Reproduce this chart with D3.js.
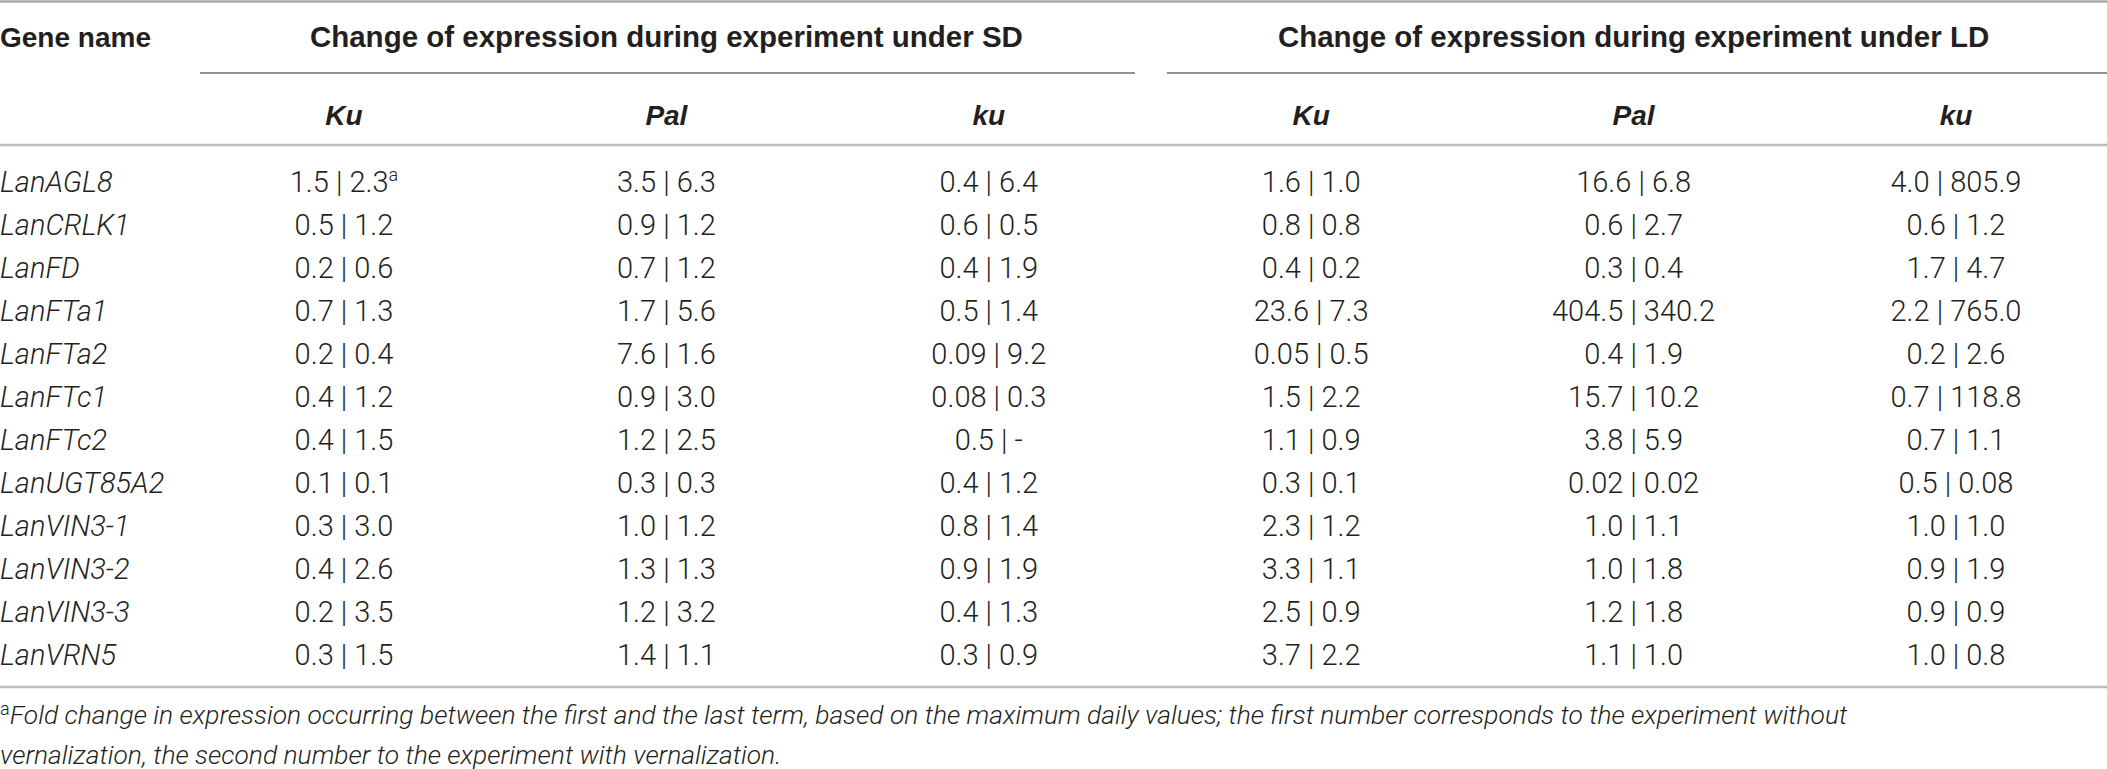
<!DOCTYPE html>
<html>
<head>
<meta charset="utf-8">
<script src="https://cdn.jsdelivr.net/npm/d3@7"></script>
<style>
  html, body { margin: 0; padding: 0; background: #fff; }
  svg { display: block; }
</style>
</head>
<body>
<div id="table"></div>
<script>
// Configuration
const TABLE_CONFIG = {
  width: 2107,
  height: 769,
  colRange: [344, 1956],
  rowRange: [182, 655],
  fonts: {
    bold: '"Liberation Sans", Arial, sans-serif',
    light: 'Roboto, "Liberation Sans", sans-serif'
  },
  textColor: '#231f20'
};

// Data
const genes = ['LanAGL8', 'LanCRLK1', 'LanFD', 'LanFTa1', 'LanFTa2', 'LanFTc1',
  'LanFTc2', 'LanUGT85A2', 'LanVIN3-1', 'LanVIN3-2', 'LanVIN3-3', 'LanVRN5'];

const conditions = ['SD', 'LD'];
const genotypes = ['Ku', 'Pal', 'ku'];

// fold change: [without vernalization, with vernalization]
const sdKu = [['1.5', '2.3'], ['0.5', '1.2'], ['0.2', '0.6'], ['0.7', '1.3'], ['0.2', '0.4'], ['0.4', '1.2'],
  ['0.4', '1.5'], ['0.1', '0.1'], ['0.3', '3.0'], ['0.4', '2.6'], ['0.2', '3.5'], ['0.3', '1.5']];
const sdPal = [['3.5', '6.3'], ['0.9', '1.2'], ['0.7', '1.2'], ['1.7', '5.6'], ['7.6', '1.6'], ['0.9', '3.0'],
  ['1.2', '2.5'], ['0.3', '0.3'], ['1.0', '1.2'], ['1.3', '1.3'], ['1.2', '3.2'], ['1.4', '1.1']];
const sdku = [['0.4', '6.4'], ['0.6', '0.5'], ['0.4', '1.9'], ['0.5', '1.4'], ['0.09', '9.2'], ['0.08', '0.3'],
  ['0.5', '-'], ['0.4', '1.2'], ['0.8', '1.4'], ['0.9', '1.9'], ['0.4', '1.3'], ['0.3', '0.9']];
const ldKu = [['1.6', '1.0'], ['0.8', '0.8'], ['0.4', '0.2'], ['23.6', '7.3'], ['0.05', '0.5'], ['1.5', '2.2'],
  ['1.1', '0.9'], ['0.3', '0.1'], ['2.3', '1.2'], ['3.3', '1.1'], ['2.5', '0.9'], ['3.7', '2.2']];
const ldPal = [['16.6', '6.8'], ['0.6', '2.7'], ['0.3', '0.4'], ['404.5', '340.2'], ['0.4', '1.9'], ['15.7', '10.2'],
  ['3.8', '5.9'], ['0.02', '0.02'], ['1.0', '1.1'], ['1.0', '1.8'], ['1.2', '1.8'], ['1.1', '1.0']];
const ldku = [['4.0', '805.9'], ['0.6', '1.2'], ['1.7', '4.7'], ['2.2', '765.0'], ['0.2', '2.6'], ['0.7', '118.8'],
  ['0.7', '1.1'], ['0.5', '0.08'], ['1.0', '1.0'], ['0.9', '1.9'], ['0.9', '0.9'], ['1.0', '0.8']];

const columns = [
  { key: 'SD-Ku', values: sdKu }, { key: 'SD-Pal', values: sdPal }, { key: 'SD-ku', values: sdku },
  { key: 'LD-Ku', values: ldKu }, { key: 'LD-Pal', values: ldPal }, { key: 'LD-ku', values: ldku }
];

const footnoteLines = [
  'Fold change in expression occurring between the first and the last term, based on the maximum daily values; the first number corresponds to the experiment without',
  'vernalization, the second number to the experiment with vernalization.'
];

function drawTable(selector) {
  const svg = d3.select(selector).append('svg')
    .attr('width', TABLE_CONFIG.width)
    .attr('height', TABLE_CONFIG.height);

  const xScale = d3.scalePoint()
    .domain(columns.map(c => c.key))
    .range(TABLE_CONFIG.colRange);

  const yScale = d3.scalePoint()
    .domain(genes)
    .range(TABLE_CONFIG.rowRange);

  // Rules
  const rule = (x1, x2, y, color, w) => svg.append('line')
    .attr('x1', x1).attr('x2', x2).attr('y1', y).attr('y2', y)
    .attr('stroke', color).attr('stroke-width', w);

  rule(0, TABLE_CONFIG.width, 1.5, '#a7a7a7', 2.5);
  rule(200, 1135, 73, '#6d6d6d', 1.6);
  rule(1167, TABLE_CONFIG.width, 73, '#6d6d6d', 1.6);
  rule(0, TABLE_CONFIG.width, 145, '#bdbdbd', 2.5);
  rule(0, TABLE_CONFIG.width, 687, '#bdbdbd', 2.5);

  // Header
  svg.append('text')
    .attr('x', 0)
    .attr('y', 47)
    .style('font-family', TABLE_CONFIG.fonts.bold)
    .style('font-weight', 'bold')
    .style('font-size', '28px')
    .attr('fill', TABLE_CONFIG.textColor)
    .text('Gene name');

  svg.selectAll('.cond-label')
    .data(conditions)
    .join('text')
    .attr('class', 'cond-label')
    .attr('x', d => xScale(`${d}-Pal`))
    .attr('y', 47)
    .attr('text-anchor', 'middle')
    .style('font-family', TABLE_CONFIG.fonts.bold)
    .style('font-weight', 'bold')
    .style('font-size', '29.5px')
    .attr('fill', TABLE_CONFIG.textColor)
    .text(d => `Change of expression during experiment under ${d}`);

  svg.selectAll('.geno-label')
    .data(columns)
    .join('text')
    .attr('class', 'geno-label')
    .attr('x', d => xScale(d.key))
    .attr('y', 125)
    .attr('text-anchor', 'middle')
    .style('font-family', TABLE_CONFIG.fonts.bold)
    .style('font-weight', 'bold')
    .style('font-style', 'italic')
    .style('font-size', '28px')
    .attr('fill', TABLE_CONFIG.textColor)
    .text(d => d.key.split('-')[1]);

  // Gene names
  svg.selectAll('.gene')
    .data(genes)
    .join('text')
    .attr('class', 'gene')
    .attr('x', 0)
    .attr('y', d => yScale(d) + 10)
    .style('font-family', TABLE_CONFIG.fonts.light)
    .style('font-weight', 300)
    .style('font-style', 'italic')
    .style('font-size', '29px')
    .attr('fill', TABLE_CONFIG.textColor)
    .text(d => d);

  // Cells
  const cells = columns.flatMap(col => col.values.map((v, i) => ({ col: col.key, gene: genes[i], v })));

  const cellText = svg.selectAll('.cell')
    .data(cells)
    .join('text')
    .attr('class', 'cell')
    .attr('x', d => xScale(d.col))
    .attr('y', d => yScale(d.gene) + 10)
    .attr('text-anchor', 'middle')
    .style('font-family', TABLE_CONFIG.fonts.light)
    .style('font-weight', 300)
    .style('font-size', '29px')
    .attr('fill', TABLE_CONFIG.textColor)
    .text(d => `${d.v[0]} | ${d.v[1]}`);

  // footnote marker on the first cell
  cellText.filter((d, i) => i === 0)
    .append('tspan')
    .attr('dy', -11)
    .style('font-size', '18px')
    .text('a');

  // Footnote
  const foot = svg.append('g')
    .style('font-family', TABLE_CONFIG.fonts.light)
    .style('font-weight', 300)
    .style('font-style', 'italic')
    .style('font-size', '26.4px')
    .attr('fill', TABLE_CONFIG.textColor);

  const line1 = foot.append('text')
    .attr('x', 0)
    .attr('y', 724);
  line1.append('tspan')
    .attr('dy', -9)
    .style('font-style', 'normal')
    .style('font-size', '18px')
    .text('a');
  line1.append('tspan')
    .attr('dy', 9)
    .text(footnoteLines[0]);

  foot.append('text')
    .attr('x', 0)
    .attr('y', 764)
    .text(footnoteLines[1]);
}

drawTable('#table');
</script>
</body>
</html>
